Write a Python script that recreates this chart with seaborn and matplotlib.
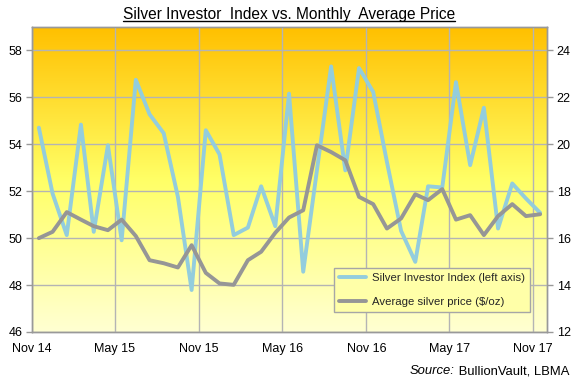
import numpy as np
import pandas as pd
import matplotlib
matplotlib.use("Agg")
import matplotlib.pyplot as plt
import seaborn as sns
from matplotlib.colors import LinearSegmentedColormap
from matplotlib.lines import Line2D

# ---- data ----
months = pd.date_range("2014-11-01", periods=37, freq="MS")
sii = [54.71, 51.9, 50.13, 54.84, 50.27, 53.96, 49.91, 56.75, 55.28, 54.47,
       51.76, 47.79, 54.6, 53.57, 50.13, 50.45, 52.21, 50.51, 56.16, 48.57,
       52.9, 57.32, 52.89, 57.25, 56.23, 53.25, 50.31, 48.99, 52.21, 52.16,
       56.65, 53.11, 55.56, 50.41, 52.33, 51.69, 51.08]
price = [16.0, 16.27, 17.11, 16.79, 16.51, 16.34, 16.79, 16.09, 15.06, 14.93,
         14.75, 15.70, 14.52, 14.07, 14.01, 15.06, 15.42, 16.23, 16.88, 17.19,
         19.96, 19.67, 19.32, 17.76, 17.45, 16.41, 16.84, 17.87, 17.62, 18.09,
         16.79, 16.98, 16.13, 16.94, 17.45, 16.94, 17.02]
tick_dates = pd.date_range("2014-11-01", "2017-11-01", freq="6MS")
tick_labels = ["Nov 14", "May 15", "Nov 15", "May 16", "Nov 16", "May 17", "Nov 17"]
left_ticks = [46, 48, 50, 52, 54, 56, 58]
right_ticks = [12, 14, 16, 18, 20, 22, 24]
series_names = ["Silver Investor Index (left axis)", "Average silver price ($/oz)"]

df = pd.DataFrame({"date": months + pd.Timedelta(days=15), "sii": sii, "price": price})

sns.set_theme(style="white")
plt.rcParams["font.family"] = ["Liberation Sans", "DejaVu Sans"]

fig = plt.figure(figsize=(5.75, 3.79), dpi=100)
fig.patch.set_facecolor("white")
ax = fig.add_axes([32 / 575, 1 - 332 / 379, (547 - 32) / 575, (332 - 27) / 379])

# gradient background
cmap = LinearSegmentedColormap.from_list(
    "bg", [(0, "#FFFFD2"), (0.5, "#FFFF66"), (1.0, "#FFC000")])
grad = np.linspace(0, 1, 256).reshape(-1, 1)
ax.imshow(grad, cmap=cmap, aspect="auto", extent=[0, 1, 0, 1],
          transform=ax.transAxes, origin="lower", zorder=0)

sns.lineplot(data=df, x="date", y="sii", ax=ax, color="#93CDDD", lw=2.8,
             legend=False, zorder=3)
ax2 = ax.twinx()
sns.lineplot(data=df, x="date", y="price", ax=ax2, color="#969696", lw=2.8,
             legend=False, zorder=3)

ax.set_xlim(pd.Timestamp("2014-11-01"), pd.Timestamp("2017-12-01"))
ax.set_ylim(46, 59)
ax2.set_ylim(12, 25)
ax.set_xticks(tick_dates)
ax.set_xticklabels(tick_labels)
ax.set_yticks(left_ticks)
ax2.set_yticks(right_ticks)
ax.set_xlabel("")
ax.set_ylabel("")
ax2.set_ylabel("")

ax.grid(True, color="#B4B4B4", lw=1, zorder=1)
ax.set_axisbelow(False)
for a in (ax, ax2):
    for s in a.spines.values():
        s.set_color("#999999")
        s.set_linewidth(1)
    a.tick_params(axis="both", direction="out", length=4, width=1,
                  color="#999999", labelsize=9, labelcolor="black", pad=3)
ax.tick_params(axis="x", pad=4)
for gl in ax.get_xgridlines() + ax.get_ygridlines():
    gl.set_zorder(1)

h1 = ax.get_lines()[0]
h2 = ax2.get_lines()[0]
leg = ax2.legend([h1, h2], series_names, loc="upper left",
                 bbox_to_anchor=(334 / 575, 1 - 268 / 379),
                 bbox_transform=fig.transFigure, borderaxespad=0,
                 fontsize=8.2, frameon=True, fancybox=False, framealpha=1,
                 facecolor="#FFFFA8", edgecolor="#A6A6A6",
                 handlelength=2.4, labelspacing=1.25, borderpad=0.45,
                 handletextpad=0.5)
leg.get_frame().set_linewidth(1)

title = fig.text(0.503, 1 - 14 / 379, "Silver Investor  Index vs. Monthly  Average Price",
                 ha="center", va="center", fontsize=11.2, color="black")
src = fig.text(569 / 575, 1 - 374 / 379, " BullionVault, LBMA",
               ha="right", va="baseline", fontsize=9.4, color="black")

fig.canvas.draw()
inv = fig.transFigure.inverted()
sb = src.get_window_extent()
sx0 = inv.transform((sb.x0, sb.y0))[0]
fig.text(sx0, 1 - 374 / 379, "Source:", ha="right", va="baseline",
         fontsize=9.4, style="italic", color="black")

bb = title.get_window_extent()
(x0, y0), (x1, y1) = inv.transform([(bb.x0, bb.y0), (bb.x1, bb.y1)])
fig.add_artist(Line2D([x0, x1], [y0 + 0.002, y0 + 0.002], transform=fig.transFigure,
                      color="black", lw=1))

fig.savefig("out.png", dpi=100)
